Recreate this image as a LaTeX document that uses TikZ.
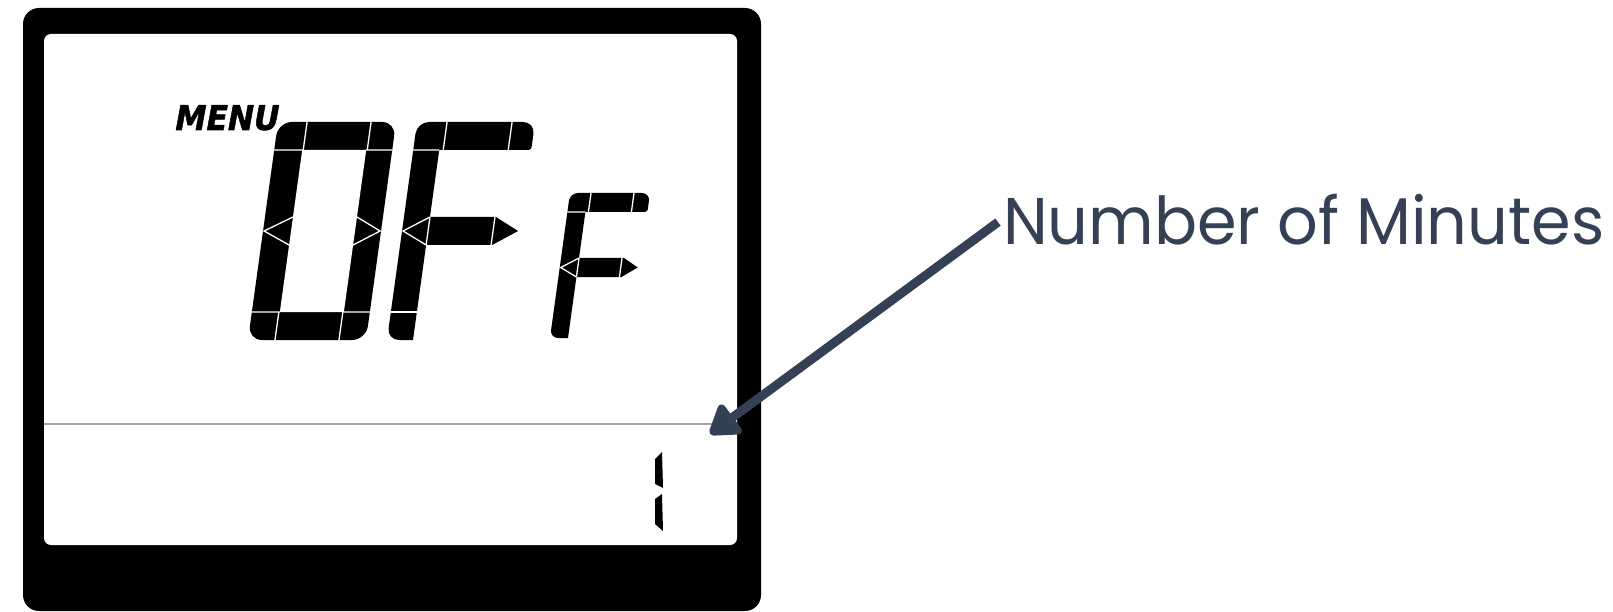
\documentclass[tikz,border=0pt]{standalone}
\usepackage{fontspec}
\usetikzlibrary{arrows.meta}
\newfontfamily\labfont{Poppins}
\newfontfamily\menufont{DejaVu Sans Bold}[FakeSlant=0.2,FakeBold=1.5]
\begin{document}
\begin{tikzpicture}[x=1pt,y=-1pt]
\definecolor{slate}{RGB}{52,65,85}
\definecolor{lcdgray}{RGB}{165,165,165}
\tikzset{
  sepline/.style={draw=white, line width=1.3pt},
  lbl/.style={font=\labfont\fontsize{66}{80}\selectfont, text=slate, inner sep=0pt, xscale=0.965},
  pointer/.style={draw=slate, line width=9pt, -{Triangle[length=32pt,width=40pt,round]}, line join=round},
}
\path[use as bounding box, fill=white] (0,0) rectangle (1613,612);
% frame
\fill[black, rounded corners=16pt] (23,8) rectangle (761,611);
\fill[white, rounded corners=7pt] (44,34) rectangle (737,545);
\draw[lcdgray, line width=2pt] (44,424) -- (737,424);
% MENU
\node[font=\menufont\fontsize{34}{36}\selectfont, anchor=base west, inner sep=0pt, xscale=0.92] (menu) at (173,130) {MENU};
% digit 0
\begin{scope}[shift={(248pt,-340pt)}, x=1pt, y=1pt, xslant=0.138]
  \fill[black, rounded corners=14pt] (0,0) rectangle (118,218);
  \fill[white] (28,28) rectangle (92,190);
  \draw[sepline] (0,190)--(28,190) (92,190)--(118,190) (29,190)--(29,218) (93,190)--(93,218);
  \draw[sepline] (0,28)--(28,28) (92,28)--(118,28) (27,0)--(27,28) (91,0)--(91,28);
  \draw[sepline] (28,123)--(1,109)--(28,95) (92,123)--(117,109)--(92,95);
\end{scope}
% digit F
\begin{scope}[shift={(387pt,-340pt)}, x=1pt, y=1pt, xslant=0.138]
  \fill[black] (13,0) [rounded corners=12pt] -- (0,0) -- (0,218) -- (118,218) [rounded corners=3pt] -- (118,190) [sharp corners] -- (26,190) -- (26,123) -- (92,123) -- (116,109) -- (92,95) -- (26,95) -- (26,0) -- cycle;
  \draw[sepline] (0,190)--(26,190) (30,190)--(30,218) (95,190)--(95,218);
  \draw[sepline] (26,123)--(1,109)--(26,95) (26,95)--(26,123) (91,95)--(91,123);
  \draw[sepline] (0,28)--(26,28);
\end{scope}
% small f
\begin{scope}[shift={(550pt,-338pt)}, x=1pt, y=1pt, xslant=0.138]
  \fill[black] (9,0) [rounded corners=8pt] -- (0,0) -- (0,145) -- (80,145) [rounded corners=2pt] -- (80,126) [sharp corners] -- (18,126) -- (18,80) -- (63,80) -- (78,70.5) -- (63,61) -- (18,61) -- (18,0) -- cycle;
  \draw[sepline] (0,126)--(18,126) (21,126)--(21,145) (64,126)--(64,145);
  \draw[sepline] (18,80)--(1,70.5)--(18,61) (18,61)--(18,80) (61,61)--(61,80);
\end{scope}
% small 1
\fill[black] (655,459) -- (662,452) -- (663,488) -- (655,484) -- cycle;
\fill[black] (655,499) -- (662,494) -- (663,531) -- (655,524) -- cycle;
% label and pointer
\node[lbl, anchor=base west] (lab) at (1003,245) {Number of Minutes};
\coordinate (tip) at (710,434);
\draw[pointer] ([xshift=-5pt,yshift=-2pt]lab.west) -- (tip);
\end{tikzpicture}
\end{document}
